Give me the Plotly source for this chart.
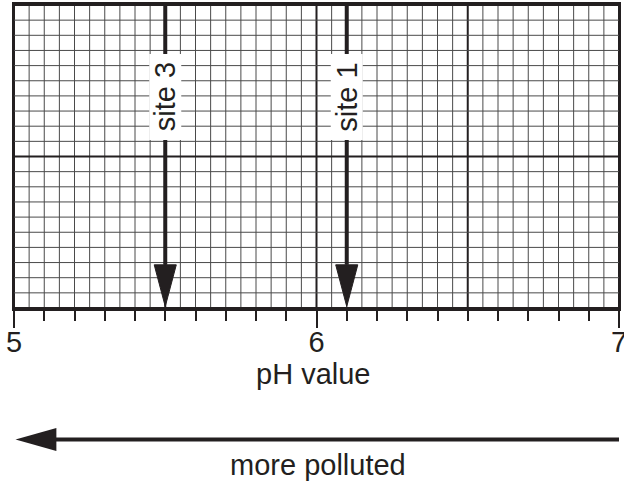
import numpy as np
import plotly.graph_objects as go

# ---- data ----
site_labels = ["site 3", "site 1"]
site_ph = [5.5, 6.1]
x_tick_vals = [5, 6, 7]
x_tick_text = ["5", "6", "7"]
x_title = "pH value"
bottom_label = "more polluted"

INK = "#231f20"
GRID = "#4a4a4a"
FONT = "Liberation Sans, Arial, Helvetica, sans-serif"
FS = 29

xmin, xmax = 5.0, 7.0
ymin, ymax = 0.0, 20.0

fig = go.Figure()
shapes = []

# grid (vertical)
for xv in np.round(np.arange(xmin, xmax + 1e-9, 0.05), 2):
    major = abs(xv * 2 - round(xv * 2)) < 1e-6
    shapes.append(dict(type="line", xref="x", yref="y", x0=xv, x1=xv, y0=ymin, y1=ymax,
                       layer="below",
                       line=dict(color=INK if major else GRID, width=2 if major else 1)))
# grid (horizontal)
for yv in np.arange(ymin, ymax + 1e-9, 1.0):
    major = yv % 10 == 0
    shapes.append(dict(type="line", xref="x", yref="y", x0=xmin, x1=xmax, y0=yv, y1=yv,
                       layer="below",
                       line=dict(color=INK if major else GRID, width=2 if major else 1)))

annotations = []
head_half_w = 0.0365
head_base = 2.85
head_tip = 0.1
label_y = 13.93
for lab, ph in zip(site_labels, site_ph):
    fig.add_trace(go.Scatter(x=[ph, ph], y=[ymax, head_base], mode="lines",
                             line=dict(color=INK, width=4), hoverinfo="skip", showlegend=False))
    fig.add_trace(go.Scatter(x=[ph - head_half_w, ph + head_half_w, ph, ph - head_half_w],
                             y=[head_base, head_base, head_tip, head_base],
                             mode="lines", fill="toself", fillcolor=INK,
                             line=dict(color=INK, width=1), hoverinfo="skip", showlegend=False))
    shapes.append(dict(type="rect", xref="x", yref="y", xsizemode="pixel", ysizemode="pixel",
                       xanchor=ph, yanchor=label_y, x0=-16, x1=16, y0=-43, y1=43,
                       fillcolor="white", line=dict(width=0), layer="above"))
    annotations.append(dict(x=ph, y=label_y, xref="x", yref="y", text=lab, textangle=-90,
                            showarrow=False, font=dict(family=FONT, size=FS, color=INK)))

# x-axis title as annotation
annotations.append(dict(x=5.99, y=-0.218, xref="x", yref="paper", text=x_title,
                        yanchor="middle", xanchor="center", showarrow=False,
                        font=dict(family=FONT, size=FS, color=INK)))

# bottom "more polluted" arrow
arr_y = -0.434
arr_hh = 0.038
shapes.append(dict(type="line", xref="x", yref="paper", x0=xmax + 0.003, x1=5.13,
                   y0=arr_y, y1=arr_y, line=dict(color=INK, width=4)))
shapes.append(dict(type="path", xref="x", yref="paper",
                   path=f"M 5.005 {arr_y} L 5.14 {arr_y + arr_hh} L 5.14 {arr_y - arr_hh} Z",
                   fillcolor=INK, line=dict(color=INK, width=0)))
annotations.append(dict(x=6.005, y=-0.518, xref="x", yref="paper", text=bottom_label,
                        yanchor="middle", xanchor="center", showarrow=False,
                        font=dict(family=FONT, size=FS, color=INK)))

fig.update_layout(
    width=624, height=483,
    margin=dict(l=14, r=5, t=5, b=175),
    paper_bgcolor="white", plot_bgcolor="white",
    shapes=shapes, annotations=annotations,
    showlegend=False,
    font=dict(family=FONT, size=FS, color=INK),
    xaxis=dict(range=[xmin, xmax], tickvals=x_tick_vals, ticktext=x_tick_text,
               ticks="outside", ticklen=17, tickwidth=2, tickcolor=INK,
               minor=dict(dtick=0.1, tick0=5, ticks="outside", ticklen=10, tickwidth=2,
                          tickcolor=INK, showgrid=False),
               showgrid=False, zeroline=False, showline=True, linewidth=2.5, linecolor=INK,
               mirror=True, automargin=False, ticklabeloverflow="allow",
               ticklabelstandoff=-11,
               tickfont=dict(family=FONT, size=FS, color=INK),
               fixedrange=True),
    yaxis=dict(range=[ymin, ymax], showticklabels=False, ticks="", showgrid=False,
               zeroline=False, showline=True, linewidth=2, linecolor=INK, mirror=True,
               automargin=False, fixedrange=True),
)

fig.write_html("out.html", config={"displayModeBar": False},
               post_script="document.body.style.margin='0';")
